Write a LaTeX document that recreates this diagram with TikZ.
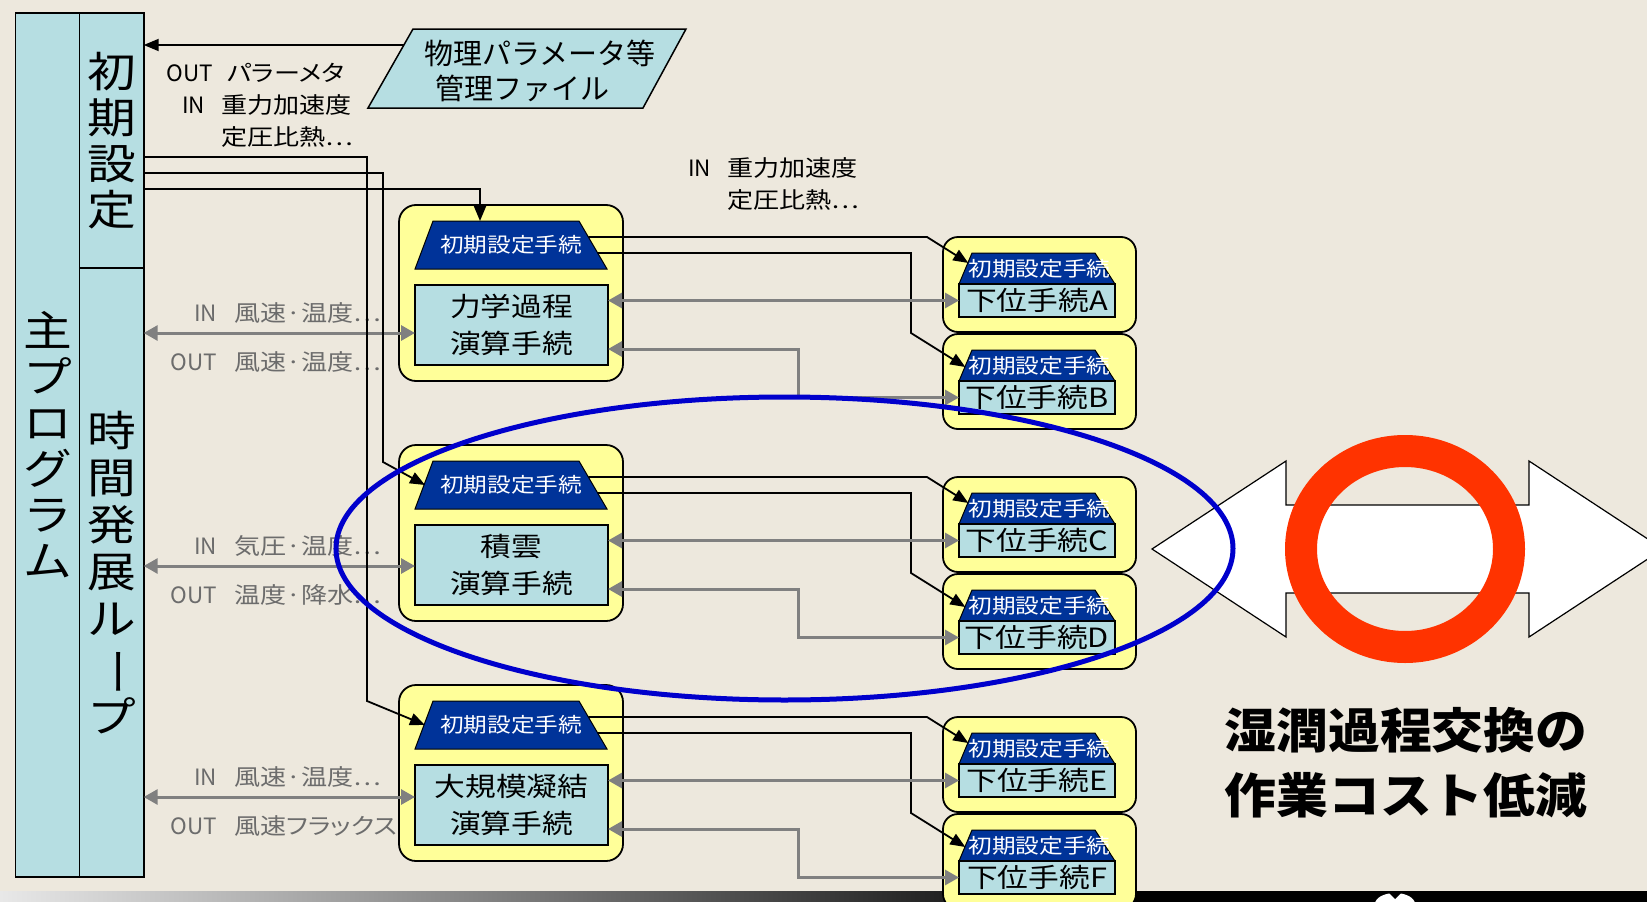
\documentclass[tikz,border=0pt]{standalone}
\usepackage{fontspec}
\setmainfont{Noto Sans CJK JP}[FakeStretch=1.16]
\newfontfamily\jpsq{Noto Sans CJK JP}
\newfontfamily\jplab{Noto Sans CJK JP}[FakeStretch=1.16,RawFeature=+palt]
\newfontfamily\jpbig{Noto Sans CJK JP}[FakeStretch=1.08]
\usetikzlibrary{arrows.meta,calc}
\newcommand\myfs[2]{\fontsize{#1pt}{#2pt}\selectfont}
\definecolor{bgc}{RGB}{237,232,221}
\definecolor{lblue}{RGB}{182,222,226}
\definecolor{lyel}{RGB}{255,255,153}
\definecolor{dblue}{RGB}{0,51,153}
\definecolor{ggray}{RGB}{128,128,128}
\definecolor{tgray}{RGB}{108,108,108}
\definecolor{ellblue}{RGB}{0,0,204}
\definecolor{ringred}{RGB}{255,51,0}
\begin{document}
\begin{tikzpicture}[x=1pt,y=-1pt,
  colbox/.style={draw=black, line width=1.8pt, fill=lblue, inner sep=0pt, outer sep=0pt, align=center},
  grpbox/.style={draw=black, line width=1.8pt, fill=lyel, rounded corners=17pt, inner sep=0pt, outer sep=0pt, minimum width=224pt, minimum height=176pt},
  subybox/.style={draw=black, line width=1.8pt, fill=lyel, rounded corners=15pt, inner sep=0pt, outer sep=0pt, minimum width=193pt, minimum height=95pt},
  procbox/.style={draw=black, line width=1.8pt, fill=lblue, inner sep=0pt, outer sep=0pt, minimum width=193pt, minimum height=80pt, align=center, font=\myfs{26.5}{37}},
  subbox/.style={draw=black, line width=1.8pt, fill=lblue, inner sep=0pt, outer sep=0pt, minimum width=156pt, minimum height=33pt, font=\myfs{26.5}{30}},
  trapfill/.style={fill=dblue, draw=black, line width=1pt},
  traptext/.style={text=white, inner sep=0pt, font=\myfs{20.4}{24}},
  blkline/.style={draw=black, line width=1.8pt, -{Triangle[length=15pt,width=12pt]}},
  grayarr/.style={draw=ggray, line width=3pt, {Triangle[length=14pt,width=15pt]}-{Triangle[length=14pt,width=15pt]}},
  glabel/.style={text=tgray, inner sep=0pt, anchor=west, font=\jplab\myfs{22.5}{27}},
  blabel/.style={text=black, inner sep=0pt, anchor=west, align=left, font=\jplab\myfs{22.5}{32}}]
\useasboundingbox (0,0) rectangle (1647,902);
\clip (0,0) rectangle (1647,902);
% background
\fill[bgc] (0,0) rectangle (1647,902);
\shade[left color={rgb,255:red,232;green,232;blue,232}, right color={rgb,255:red,30;green,30;blue,30}] (0,891) rectangle (960,902);
\fill[black] (960,891) rectangle (1647,902);
\fill[white] (1395,904) ellipse [x radius=20, y radius=11];
\fill[black] (1389,893) -- (1401,893) -- (1395,899) -- cycle;

% big double arrow and ring
\filldraw[fill=white, draw=black, line width=1.2pt] (1152,549) -- (1286,461) -- (1286,505) -- (1529,505) -- (1529,461) -- (1663,549) -- (1529,637) -- (1529,593) -- (1286,593) -- (1286,637) -- cycle;
\draw[ringred, line width=32pt] (1405,549) ellipse [x radius=104, y radius=98];
\node[font=\jpbig\bfseries\myfs{48}{65}, align=center, inner sep=0pt] (goal) at (1406,762.5) {湿潤過程交換の\\作業コスト低減};

% main columns
\node[colbox, minimum width=64pt, minimum height=864pt, font=\myfs{42}{46}] (main) at (47.5,445) {主\\プ\\ロ\\グ\\ラ\\ム};
\node[colbox, minimum width=64.2pt, minimum height=255pt, font=\myfs{42}{46}] (init) at (111.6,140.5) {初\\期\\設\\定};
\node[colbox, minimum width=64.2pt, minimum height=609pt, font=\myfs{42}{47}] (loop) at (111.6,572.5) {時\\間\\発\\展\\ル\\\rotatebox[origin=c]{-90}{ー}\\プ};

% parameter file
\filldraw[fill=lblue, draw=black, line width=1.5pt] (413,29) -- (686,29) -- (643,108) -- (368,108) -- cycle;
\node[anchor=west, align=left, inner sep=0pt, font=\jpsq\myfs{29}{35}] (file) at (424,70.5) {物理パラメータ等\\\hspace*{11pt}管理ファイル};
\coordinate (fileL) at (404,45);
\draw[blkline] (fileL) -- (init.east |- fileL);

% top labels
\node[blabel] (lblout) at (227,73) {\llap{{\jpsq OUT}\hspace{14pt}}パラーメタ};
\node[blabel] (lblin1) at (221,121.5) {\llap{{\jpsq IN}\hspace{16pt}}重力加速度\\定圧比熱…};
\node[blabel] (lblin2) at (727,184) {\llap{{\jpsq IN}\hspace{16pt}}重力加速度\\定圧比熱…};

% groups
\foreach \i/\T/\txt/\gl/\lin/\lout/\la/\lb in {
  1/205/{力学過程\\演算手続}/333/{風速·温度…}/{風速·温度…}/A/B,
  2/445/{積雲\\演算手続}/566/{気圧·温度…}/{温度·降水…}/C/D,
  3/685/{大規模凝結\\演算手続}/797/{風速·温度…}/{風速フラックス…}/E/F}{
  % labels (behind boxes)
  \node[glabel] (in\i) at (234,\gl-20) {\llap{{\jpsq IN}\hspace{17pt}}\lin};
  \node[glabel] (out\i) at (234,\gl+29) {\llap{{\jpsq OUT}\hspace{17pt}}\lout};
  % group box
  \node[grpbox] (grp\i) at (511,\T+88) {};
  \filldraw[trapfill] (433,\T+16) -- (579,\T+16) -- (607,\T+64) -- (415,\T+64) -- cycle;
  \node[traptext] (trap\i) at (511,\T+40) {初期設定手続};
  \node[procbox] (proc\i) at (511.5,\T+120) {\txt};
  \coordinate (trA\i) at (588.3,\T+32);
  \coordinate (trB\i) at (597.7,\T+48);
  \coordinate (trL\i) at (425,\T+40);
  \coordinate (trT\i) at (480,\T+16);
  % sub box a
  \node[subybox] (suba\i) at (1039.5,\T+79.5) {};
  \filldraw[trapfill] (972,\T+48) -- (1095,\T+48) -- (1115,\T+79) -- (959,\T+79) -- cycle;
  \node[traptext] (subtra\i) at (1039.5,\T+64) {初期設定手続};
  \node[subbox] (subpa\i) at (1037,\T+95.5) {下位手続\la};
  % sub box b
  \node[subybox] (subb\i) at (1039.5,\T+176.5) {};
  \filldraw[trapfill] (972,\T+145) -- (1095,\T+145) -- (1115,\T+176) -- (959,\T+176) -- cycle;
  \node[traptext] (subtrb\i) at (1039.5,\T+161) {初期設定手続};
  \node[subbox] (subpb\i) at (1037,\T+192.5) {下位手続\lb};
  % connectors
  \draw[blkline] (trA\i) -- (927,\T+32) -- ($(subtra\i.west)+(0,-6)$);
  \draw[blkline] (trB\i) -- (911,\T+48) -- (911,\T+128) -- ($(subtrb\i.west)+(-3,1)$);
  \draw[grayarr] (proc\i.east |- subpa\i.west) -- (subpa\i.west);
  \draw[grayarr] ($(proc\i.east)+(0,24)$) -- (798,\T+144) |- (subpb\i.west);
  \path (proc\i.west) ++(0,\gl-\T-120) coordinate (gl\i);
  \draw[grayarr] (loop.east |- gl\i) -- (gl\i);
}

% init connectors
\draw[blkline] ($(init.north east)+(0,144)$) -| (367,701) -- (trL3);
\draw[blkline] ($(init.north east)+(0,160)$) -| (383,462) -- (trL2);
\draw[blkline] ($(init.north east)+(0,176)$) -| (trT1);

% blue ellipse on top
\draw[ellblue, line width=5pt] (784.5,548.5) ellipse [x radius=448.5, y radius=151.5];
\end{tikzpicture}
\end{document}
